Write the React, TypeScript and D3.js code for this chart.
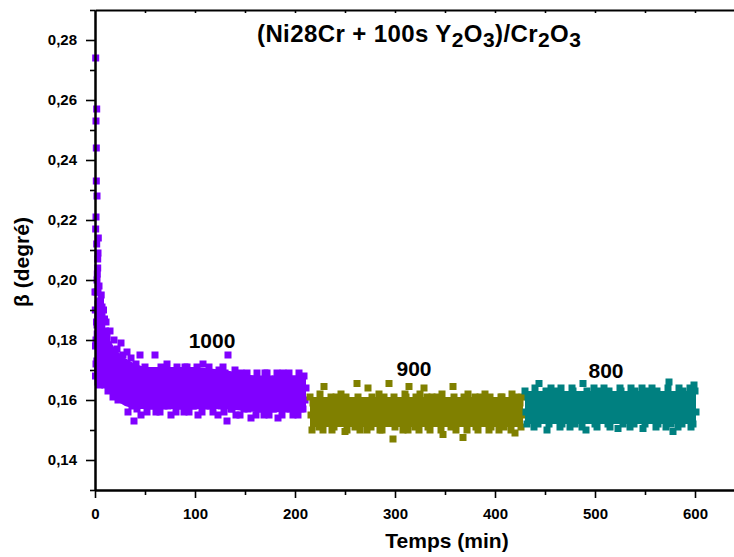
import React, { useEffect, useRef } from "react";
import * as d3 from "d3";

// ---------- data ----------
const xMajorTicks = [0, 100, 200, 300, 400, 500, 600];
const xMinorTicks = [50, 150, 250, 350, 450, 550];
const xTopTicks = [50, 100, 150, 200, 250, 300, 350, 400, 450, 500, 550, 600];
const yMajorTicks = [0.14, 0.16, 0.18, 0.2, 0.22, 0.24, 0.26, 0.28];
const yMinorTicks = [0.13, 0.15, 0.17, 0.19, 0.21, 0.23, 0.25, 0.27, 0.29];

const seriesNames = ["1000", "900", "800"];
const seriesColors = ["#8000ff", "#808000", "#008080"];

// dense core of each scatter band: time, lower and upper edge
const purpleCoreT = [0, 5, 10, 15, 20, 30, 40, 50, 70, 100, 130, 160, 190, 211];
const purpleCoreLo = [0.168, 0.166, 0.164, 0.162, 0.16, 0.158, 0.157, 0.157, 0.157, 0.157, 0.157, 0.156, 0.156, 0.156];
const purpleCoreHi = [0.196, 0.19, 0.184, 0.18, 0.177, 0.174, 0.172, 0.171, 0.171, 0.171, 0.17, 0.168, 0.168, 0.168];
const oliveCoreT = [215, 300, 428];
const oliveCoreLo = [0.151, 0.151, 0.151];
const oliveCoreHi = [0.161, 0.161, 0.161];
const tealCoreT = [430, 520, 601];
const tealCoreLo = [0.152, 0.152, 0.152];
const tealCoreHi = [0.163, 0.163, 0.163];

// early transient of the 1000 series (time in min, beta in degree)
const purpleEarlyT = [0.7, 1.7, 1.0, 1.3, 1.3, 2.0, 1.0, 0.7, 3.3, 1.7, 3.0, 2.7, 2.7, 2.3, 2.0, 4.0, 3.0, 5.5, 7.0, 8.5, 6.0, 9.5, 3.5, 10.5, 12.0, 2.5, 4.5, 7.5, 1.0, 0.5, 3.5,
  0.3, 1.5, 2.2, 3.8, 5.0, 6.5, 8.0, 9.0, 4.2, 5.8, 7.0, 11.0, 10.0, 3.0, 1.2, 0.5, 2.8, 6.2, 4.8, 8.8, 1.8, 5.2, 9.8, 6.8];
const purpleEarlyV = [0.274, 0.257, 0.253, 0.244, 0.233, 0.228, 0.221, 0.217, 0.214, 0.212, 0.209, 0.207, 0.204, 0.202, 0.2, 0.198, 0.196, 0.193, 0.191, 0.19, 0.188, 0.187, 0.185, 0.183, 0.181, 0.17, 0.165, 0.166, 0.18, 0.178, 0.175,
  0.19, 0.186, 0.182, 0.179, 0.185, 0.176, 0.172, 0.181, 0.171, 0.168, 0.182, 0.176, 0.172, 0.192, 0.196, 0.168, 0.188, 0.195, 0.174, 0.177, 0.173, 0.189, 0.165, 0.184];

// sampled each minute
const purpleStart = 0;
const purpleValues = [
  0.196, 0.172, 0.185, 0.166, 0.191, 0.178, 0.169, 0.188, 0.175, 0.182, 0.167, 0.186,
  0.178, 0.163, 0.172, 0.183, 0.167, 0.175, 0.161, 0.18,
  0.17, 0.165, 0.177, 0.16, 0.173, 0.168, 0.179, 0.162, 0.175, 0.166,
  0.171, 0.16, 0.176, 0.156, 0.166, 0.163, 0.174, 0.158, 0.169, 0.153, 0.164, 0.172, 0.157, 0.167, 0.161, 0.175, 0.155, 0.17, 0.163, 0.159,
  0.171, 0.163, 0.156, 0.168, 0.161, 0.166, 0.158,
  0.158, 0.168, 0.163, 0.175, 0.156, 0.161, 0.166,
  0.166, 0.156, 0.171, 0.161, 0.168, 0.158, 0.163,
  0.161, 0.172, 0.158, 0.166, 0.163, 0.155, 0.168,
  0.168, 0.161, 0.166, 0.156, 0.171, 0.163, 0.158,
  0.163, 0.158, 0.168, 0.161, 0.156, 0.171, 0.166,
  0.171, 0.163, 0.156, 0.168, 0.161, 0.166, 0.158,
  0.158, 0.168, 0.163, 0.171, 0.155, 0.161, 0.166,
  0.166, 0.156, 0.172, 0.161, 0.168, 0.158, 0.163,
  0.161, 0.171, 0.158, 0.166, 0.163, 0.156, 0.168,
  0.168, 0.161, 0.166, 0.155, 0.17, 0.163, 0.158,
  0.163, 0.171, 0.156,
  0.169, 0.162, 0.153, 0.175, 0.16, 0.164, 0.157,
  0.157, 0.167, 0.162, 0.17, 0.155, 0.16, 0.164,
  0.164, 0.155, 0.169, 0.16, 0.167, 0.157, 0.162,
  0.16, 0.169, 0.157, 0.164, 0.162, 0.154, 0.167,
  0.167, 0.16, 0.164, 0.155, 0.169, 0.162, 0.157,
  0.162, 0.157, 0.167, 0.16, 0.155, 0.169, 0.164,
  0.169, 0.162, 0.155, 0.167, 0.16, 0.164, 0.157,
  0.157, 0.167, 0.162, 0.169, 0.154, 0.16, 0.164,
  0.164, 0.155, 0.169, 0.16, 0.167, 0.157, 0.162,
  0.16, 0.169, 0.157, 0.164, 0.162, 0.155, 0.167,
  0.167, 0.16, 0.164, 0.155, 0.169, 0.162, 0.157,
  0.162, 0.157, 0.168, 0.16, 0.164,
];

const oliveStart = 215;
const oliveValues = [
  0.161, 0.155, 0.15, 0.159, 0.153, 0.157,
  0.153, 0.159, 0.157, 0.151, 0.162, 0.155,
  0.157, 0.15, 0.1645, 0.155, 0.159, 0.153,
  0.159, 0.153, 0.155, 0.161, 0.15, 0.157,
  0.151, 0.157, 0.161, 0.153, 0.155, 0.159,
  0.155, 0.162, 0.153, 0.157, 0.159, 0.1495,
  0.161, 0.15, 0.157, 0.153, 0.159, 0.155,
  0.153, 0.157, 0.159, 0.151, 0.155, 0.1655,
  0.161, 0.155, 0.15, 0.159, 0.153, 0.157,
  0.153, 0.159, 0.157, 0.15, 0.164, 0.155,
  0.157, 0.151, 0.161, 0.155, 0.159, 0.153,
  0.159, 0.153, 0.155, 0.162, 0.15, 0.157,
  0.15, 0.157, 0.161, 0.153, 0.155, 0.159,
  0.155, 0.1655, 0.153, 0.157, 0.159, 0.147,
  0.161, 0.151, 0.157, 0.153, 0.159, 0.155,
  0.153, 0.157, 0.159, 0.15, 0.155, 0.162,
  0.161, 0.155, 0.15, 0.1645, 0.153, 0.157,
  0.153, 0.159, 0.157, 0.151, 0.161, 0.155,
  0.157, 0.15, 0.162, 0.155, 0.159, 0.153,
  0.164, 0.153, 0.155, 0.161, 0.151, 0.157,
  0.15, 0.157, 0.161, 0.153, 0.155, 0.159,
  0.155, 0.161, 0.153, 0.157, 0.159, 0.15,
  0.162, 0.1485, 0.157, 0.153, 0.159, 0.155,
  0.153, 0.157, 0.159, 0.151, 0.155, 0.1645,
  0.161, 0.155, 0.15, 0.159, 0.153, 0.157,
  0.153, 0.159, 0.157, 0.1475, 0.161, 0.155,
  0.157, 0.15, 0.162, 0.155, 0.159, 0.153,
  0.159, 0.153, 0.155, 0.161, 0.151, 0.157,
  0.15, 0.157, 0.161, 0.153, 0.155, 0.159,
  0.155, 0.162, 0.153, 0.157, 0.159, 0.15,
  0.161, 0.151, 0.157, 0.153, 0.159, 0.155,
  0.153, 0.157, 0.159, 0.15, 0.155, 0.161,
  0.161, 0.155, 0.151, 0.159, 0.153, 0.157,
  0.153, 0.159, 0.157, 0.15, 0.162, 0.155,
  0.157, 0.149, 0.161, 0.155, 0.159, 0.153,
  0.159, 0.151, 0.161, 0.155,
];

const tealStart = 430;
const tealValues = [
  0.163, 0.156, 0.152, 0.161, 0.154, 0.159,
  0.154, 0.161, 0.159, 0.151, 0.164, 0.156,
  0.159, 0.152, 0.1655, 0.156, 0.161, 0.154,
  0.161, 0.154, 0.156, 0.163, 0.15, 0.159,
  0.152, 0.159, 0.164, 0.154, 0.156, 0.161,
  0.156, 0.163, 0.154, 0.159, 0.161, 0.151,
  0.164, 0.152, 0.159, 0.154, 0.161, 0.156,
  0.154, 0.159, 0.161, 0.151, 0.156, 0.164,
  0.163, 0.156, 0.152, 0.161, 0.154, 0.159,
  0.154, 0.161, 0.159, 0.151, 0.1655, 0.156,
  0.159, 0.15, 0.163, 0.156, 0.161, 0.154,
  0.161, 0.154, 0.156, 0.164, 0.152, 0.159,
  0.151, 0.159, 0.163, 0.154, 0.156, 0.161,
  0.156, 0.164, 0.154, 0.159, 0.161, 0.152,
  0.163, 0.151, 0.159, 0.154, 0.161, 0.156,
  0.154, 0.159, 0.161, 0.1505, 0.156, 0.164,
  0.163, 0.156, 0.152, 0.161, 0.154, 0.159,
  0.154, 0.161, 0.159, 0.151, 0.164, 0.156,
  0.159, 0.152, 0.163, 0.156, 0.161, 0.154,
  0.161, 0.154, 0.156, 0.164, 0.1505, 0.159,
  0.152, 0.159, 0.163, 0.154, 0.156, 0.161,
  0.156, 0.164, 0.154, 0.159, 0.161, 0.151,
  0.163, 0.152, 0.159, 0.154, 0.161, 0.156,
  0.154, 0.159, 0.161, 0.151, 0.156, 0.164,
  0.166, 0.156, 0.152, 0.161, 0.1495, 0.159,
  0.154, 0.161, 0.159, 0.151, 0.164, 0.156,
  0.159, 0.152, 0.163, 0.156, 0.161, 0.154,
  0.161, 0.154, 0.156, 0.164, 0.151, 0.159,
  0.152, 0.165, 0.163, 0.156,
];

const sampleStep = 1;

// ---------- chart ----------
const W = 734;
const H = 557;
const FONT = "'Liberation Sans', Arial, Helvetica, sans-serif";

export default function App() {
  const ref = useRef<SVGSVGElement | null>(null);

  useEffect(() => {
    const svg = d3.select(ref.current);
    svg.selectAll("*").remove();

    const x = d3.scaleLinear().domain([0, 640]).range([95, 735]);
    const y = d3.scaleLinear().domain([0.13, 0.29]).range([490, 10]);

    const purplePts = purpleEarlyT
      .map((t, i) => ({ t, v: purpleEarlyV[i] }))
      .concat(purpleValues.map((v, i) => ({ t: purpleStart + i * sampleStep, v })));
    const olivePts = oliveValues.map((v, i) => ({ t: oliveStart + i * sampleStep, v }));
    const tealPts = tealValues.map((v, i) => ({ t: tealStart + i * sampleStep, v }));
    const all = [purplePts, olivePts, tealPts];

    const cores = [
      { t: purpleCoreT, lo: purpleCoreLo, hi: purpleCoreHi },
      { t: oliveCoreT, lo: oliveCoreLo, hi: oliveCoreHi },
      { t: tealCoreT, lo: tealCoreLo, hi: tealCoreHi },
    ];
    const area = d3
      .area<{ t: number; lo: number; hi: number }>()
      .x((d) => x(d.t))
      .y0((d) => y(d.lo))
      .y1((d) => y(d.hi));

    const s = 7;
    all.forEach((pts, k) => {
      const c = cores[k];
      const core = c.t.map((t, i) => ({ t, lo: c.lo[i], hi: c.hi[i] }));
      const g = svg.append("g").attr("fill", seriesColors[k]);
      g.append("path").datum(core).attr("d", area);
      g.selectAll("rect")
        .data(pts)
        .join("rect")
        .attr("x", (d) => x(d.t) - s / 2)
        .attr("y", (d) => y(d.v) - s / 2)
        .attr("width", s)
        .attr("height", s);
    });

    const fmtY = (d: any) => (+d).toFixed(2).replace(".", ",");

    // top axis (ticks inward)
    const gTop = svg.append("g").attr("transform", `translate(0,${y(0.29)})`);
    gTop.call(d3.axisBottom(x).tickValues(xTopTicks).tickSize(3).tickSizeOuter(0).tickFormat(() => ""));

    // left axis minor
    const gLm = svg.append("g").attr("transform", `translate(${x(0)},0)`);
    gLm.call(d3.axisLeft(y).tickValues(yMinorTicks).tickSize(5).tickSizeOuter(0).tickFormat(() => ""));
    // left axis major
    const gL = svg.append("g").attr("transform", `translate(${x(0)},0)`);
    gL.call(d3.axisLeft(y).tickValues(yMajorTicks).tickSize(9).tickPadding(9).tickSizeOuter(0).tickFormat(fmtY));

    // bottom axis minor
    const gBm = svg.append("g").attr("transform", `translate(0,${y(0.13)})`);
    gBm.call(d3.axisBottom(x).tickValues(xMinorTicks).tickSize(5).tickSizeOuter(0).tickFormat(() => ""));
    // bottom axis major
    const gB = svg.append("g").attr("transform", `translate(0,${y(0.13)})`);
    gB.call(d3.axisBottom(x).tickValues(xMajorTicks).tickSize(8).tickPadding(10).tickSizeOuter(0).tickFormat((d: any) => String(d)));

    svg.selectAll(".domain").attr("stroke", "#000").attr("stroke-width", 2);
    svg.selectAll(".tick line").attr("stroke", "#000").attr("stroke-width", 1.6);
    svg
      .selectAll(".tick text")
      .attr("fill", "#000")
      .style("font-family", FONT)
      .style("font-size", "15px")
      .style("font-weight", "bold");

    // temperature labels
    const labelPos = [
      { t: 117, v: 0.1775 },
      { t: 319, v: 0.168 },
      { t: 511, v: 0.1673 },
    ];
    seriesNames.forEach((n, i) => {
      svg
        .append("text")
        .attr("x", x(labelPos[i].t))
        .attr("y", y(labelPos[i].v))
        .attr("text-anchor", "middle")
        .style("font-family", FONT)
        .style("font-size", "21px")
        .style("font-weight", "bold")
        .text(n);
    });
  }, []);

  return (
    <div style={{ position: "absolute", left: 0, top: 0 }}>
      <svg ref={ref} width={W} height={H} style={{ display: "block", background: "#fff" }} />
      <svg
        width={W}
        height={H}
        style={{ position: "absolute", left: 0, top: 0, pointerEvents: "none" }}
        fontFamily={FONT}
        fontWeight="bold"
      >
        <text x={257} y={42} fontSize={24} letterSpacing={0.4}>
          (Ni28Cr + 100s Y
          <tspan fontSize={21} dy={5}>2</tspan>
          <tspan dy={-5}>O</tspan>
          <tspan fontSize={21} dy={5}>3</tspan>
          <tspan dy={-5}>)/Cr</tspan>
          <tspan fontSize={21} dy={5}>2</tspan>
          <tspan dy={-5}>O</tspan>
          <tspan fontSize={21} dy={5}>3</tspan>
        </text>
        <text x={447} y={548} fontSize={21} textAnchor="middle">
          Temps (min)
        </text>
        <text transform="translate(29,262) rotate(-90)" fontSize={21} textAnchor="middle">
          β (degré)
        </text>
      </svg>
    </div>
  );
}
